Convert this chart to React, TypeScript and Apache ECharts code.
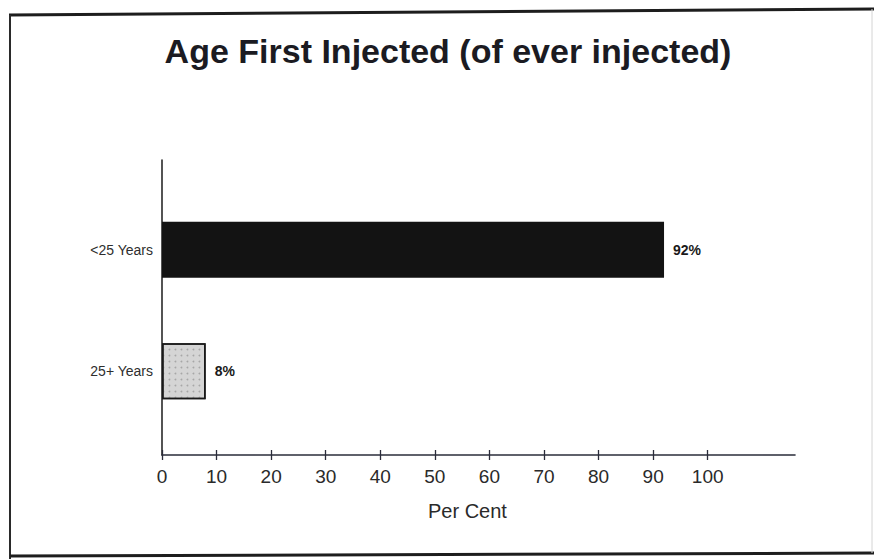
import React, { useEffect, useRef } from "react";
import * as echarts from "echarts";

// Chart content
const titleText = "Age First Injected (of ever injected)";
const categories = ["25+ Years", "<25 Years"];
const percentages = [8, 92];
const tickValues = [0, 10, 20, 30, 40, 50, 60, 70, 80, 90, 100];
const axisName = "Per Cent";

const FONT = "'Liberation Sans', Arial, Helvetica, sans-serif";
const AXIS_MAX = 116;

export default function App() {
  const ref = useRef<HTMLDivElement | null>(null);

  useEffect(() => {
    if (!ref.current) return;
    const chart = echarts.init(ref.current, null, { renderer: "svg" });

    const barFill = ["#d5d5d5", "#131313"];

    chart.setOption({
      animation: false,
      backgroundColor: "#ffffff",
      title: {
        text: titleText,
        left: 443,
        top: 29,
        textAlign: "center",
        textStyle: {
          fontFamily: FONT,
          fontSize: 34,
          fontWeight: "bold",
          color: "#1b1b22",
        },
      },
      grid: [
        { left: 162, right: 79, top: 160, bottom: 104 },
        { left: 162, right: 79, top: 189, bottom: 127 },
      ],
      xAxis: [
        {
          type: "value",
          gridIndex: 0,
          min: 0,
          max: AXIS_MAX,
          interval: 10,
          splitLine: { show: false },
          axisLine: { show: true, lineStyle: { color: "#2a2c3a", width: 1.6 } },
          axisTick: {
            show: true,
            inside: false,
            length: 5,
            customValues: tickValues,
            lineStyle: { color: "#2a2c3a", width: 1.3 },
          },
          axisLabel: {
            show: true,
            customValues: tickValues,
            margin: 12,
            fontFamily: FONT,
            fontSize: 19,
            color: "#2a2a2a",
          },
        },
        {
          type: "value",
          gridIndex: 0,
          position: "bottom",
          min: 0,
          max: AXIS_MAX,
          interval: 10,
          splitLine: { show: false },
          axisLine: { show: false },
          axisTick: {
            show: true,
            inside: true,
            length: 5,
            customValues: tickValues,
            lineStyle: { color: "#2a2c3a", width: 1.3 },
          },
          axisLabel: { show: false },
        },
        {
          type: "value",
          gridIndex: 1,
          min: 0,
          max: AXIS_MAX,
          show: false,
        },
      ],
      yAxis: [
        {
          type: "value",
          gridIndex: 0,
          min: 0,
          max: 1,
          splitLine: { show: false },
          axisLine: { show: true, lineStyle: { color: "#2a2a2a", width: 1.6 } },
          axisTick: { show: false },
          axisLabel: { show: false },
        },
        {
          type: "category",
          gridIndex: 1,
          data: categories,
          axisLine: { show: false },
          axisTick: { show: false },
          axisLabel: {
            margin: 9,
            fontFamily: FONT,
            fontSize: 14,
            color: "#2e2e2e",
          },
        },
      ],
      graphic: [
        {
          type: "text",
          left: 428,
          top: 501,
          style: {
            text: axisName,
            fontFamily: FONT,
            fontSize: 20,
            fill: "#2a2a2a",
          },
        },
        // page frame
        {
          type: "line",
          shape: { x1: 9, y1: 15, x2: 874, y2: 9 },
          style: { stroke: "#1d1d1d", lineWidth: 3 },
        },
        {
          type: "line",
          shape: { x1: 10, y1: 15, x2: 10, y2: 559 },
          style: { stroke: "#2a2a2a", lineWidth: 2 },
        },
        {
          type: "line",
          shape: { x1: 10, y1: 556, x2: 874, y2: 553 },
          style: { stroke: "#1d1d1d", lineWidth: 3 },
        },
        {
          type: "line",
          shape: { x1: 872, y1: 9, x2: 872, y2: 553 },
          style: { stroke: "#d4d4d4", lineWidth: 1 },
        },
      ],
      series: [
        {
          type: "bar",
          xAxisIndex: 2,
          yAxisIndex: 1,
          barWidth: 56,
          data: percentages.map((v, i) => ({
            value: v,
            itemStyle: {
              color: barFill[i],
              borderColor: "#1a1a1a",
              borderWidth: i === 0 ? 1.6 : 0,
              decal:
                i === 0
                  ? {
                      symbol: "circle",
                      symbolSize: 0.6,
                      dashArrayX: 3,
                      dashArrayY: 3,
                      color: "rgba(80,80,80,0.35)",
                    }
                  : undefined,
            },
          })),
          label: {
            show: true,
            position: "right",
            distance: 9,
            formatter: "{c}%",
            fontFamily: FONT,
            fontSize: 14,
            fontWeight: "bold",
            color: "#1a1a1a",
          },
        },
      ],
    });

    return () => chart.dispose();
  }, []);

  return (
    <div
      ref={ref}
      style={{ position: "absolute", left: 0, top: 0, width: 874, height: 559 }}
    />
  );
}
